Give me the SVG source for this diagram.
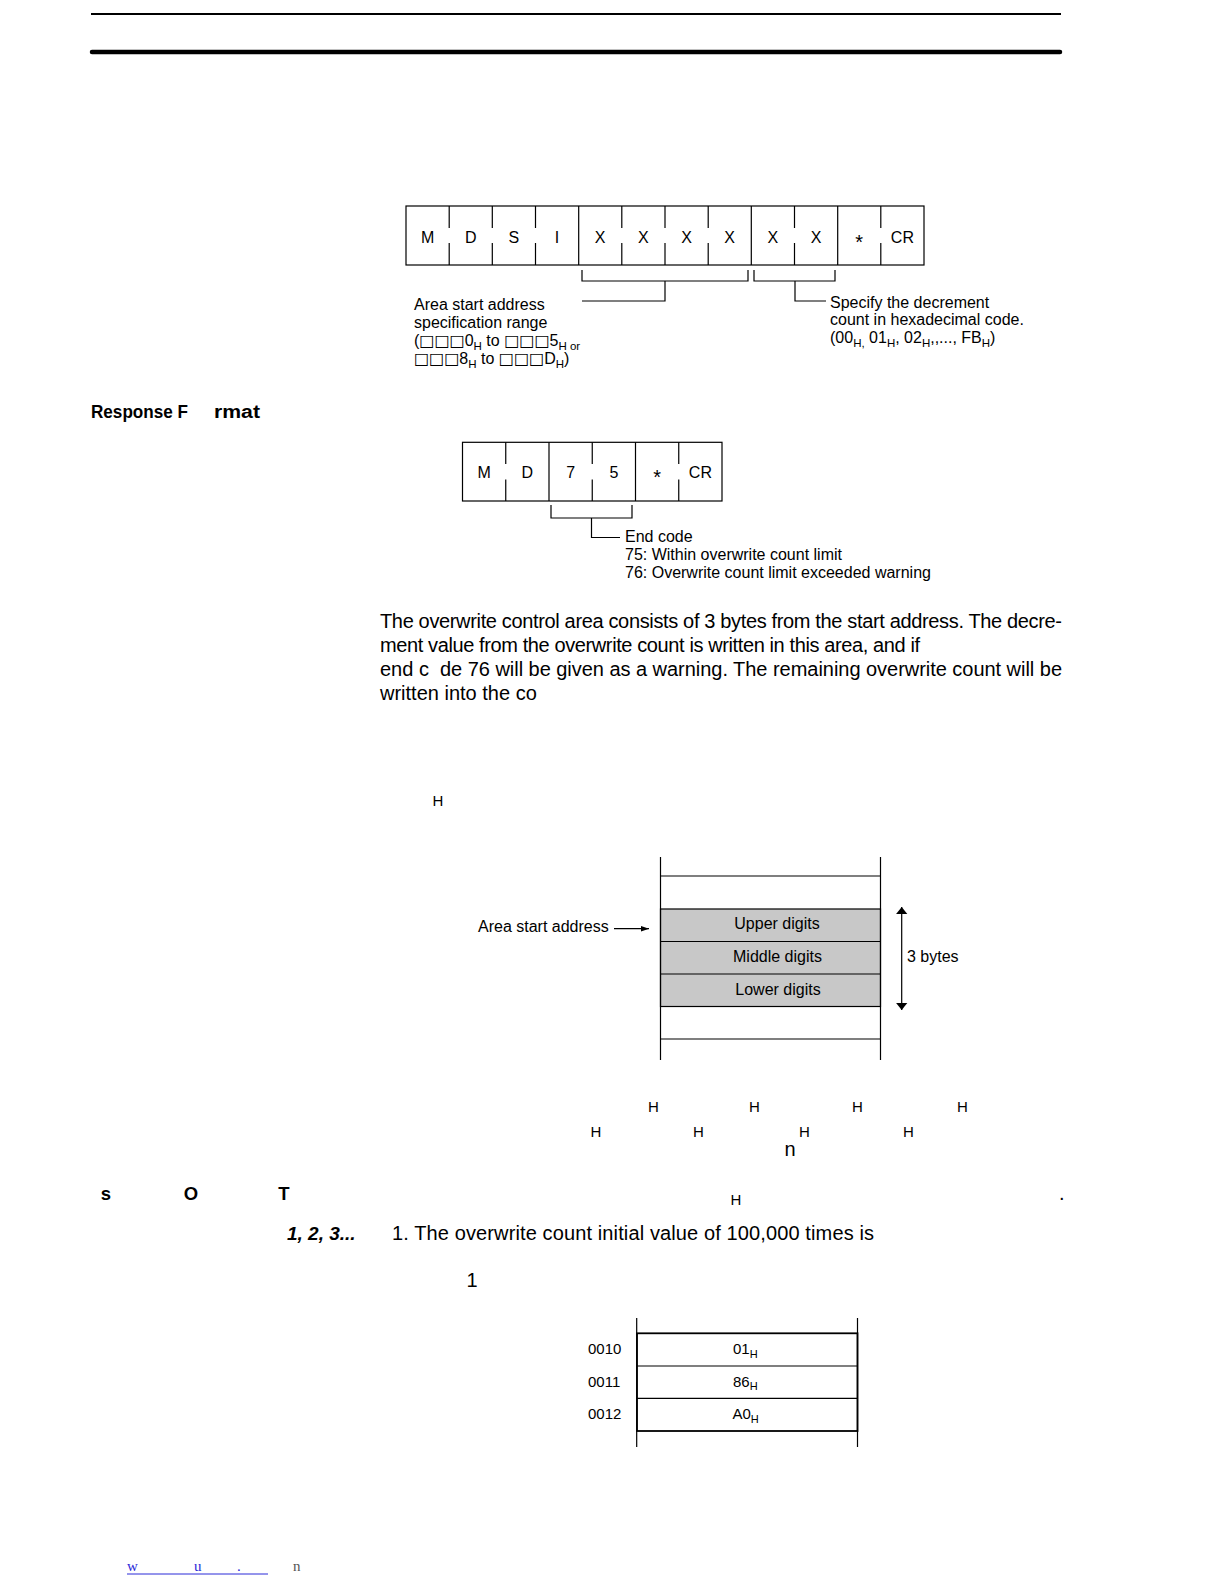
<svg xmlns="http://www.w3.org/2000/svg" width="1224" height="1584" viewBox="0 0 1224 1584">
<style>
text{font-family:"Liberation Sans",Arial,sans-serif;fill:#000}
.c{font-size:16px;text-anchor:middle}
.st{font-size:20px;text-anchor:middle}
.a{font-size:16px}
.p{font-size:20px}
.h{font-size:15px;text-anchor:middle}
.b{font-weight:bold}
.ln{stroke:#000;stroke-width:1.2;fill:none}
.box{stroke:#000;stroke-width:1.2;fill:#fff}
.g{fill:#c8c8c8;stroke:#000;stroke-width:1.2}
.sub{font-size:11.5px}
.sq{font-family:"DejaVu Sans",sans-serif;font-size:16px}
</style>
<defs>
<marker id="ah" viewBox="0 0 10 10" refX="10" refY="5" markerWidth="8" markerHeight="8" markerUnits="userSpaceOnUse" orient="auto">
<path d="M0,1.5 L10,5 L0,8.5 Z" fill="#000"/>
</marker>
<marker id="ah2" viewBox="0 0 10 20" refX="10" refY="10" markerWidth="7" markerHeight="14" markerUnits="userSpaceOnUse" orient="auto">
<path d="M0,2 L10,10 L0,18 Z" fill="#000"/>
</marker>
</defs>

<g id="header">
<line x1="91" y1="14" x2="1061" y2="14" stroke="#000" stroke-width="2"/>
<line x1="92" y1="52" x2="1060" y2="52" stroke="#000" stroke-width="4.5" stroke-linecap="round"/>
</g>

<g id="command-frame">
<rect x="406" y="206" width="518" height="59" class="box"/>
<path class="ln" d="M449.2,206V228M449.2,243V265M492.3,206V228M492.3,243V265M535.5,206V228M535.5,243V265M578.7,206V265M621.8,206V228M621.8,243V265M665,206V228M665,243V265M708.2,206V228M708.2,243V265M751.3,206V265M794.5,206V228M794.5,243V265M837.7,206V265M880.8,206V228M880.8,243V265"/>
<text class="c" x="427.6" y="242.5">M</text>
<text class="c" x="470.7" y="242.5">D</text>
<text class="c" x="513.9" y="242.5">S</text>
<text class="c" x="557.1" y="242.5">I</text>
<text class="c" x="600.2" y="242.5">X</text>
<text class="c" x="643.4" y="242.5">X</text>
<text class="c" x="686.6" y="242.5">X</text>
<text class="c" x="729.7" y="242.5">X</text>
<text class="c" x="772.9" y="242.5">X</text>
<text class="c" x="816.1" y="242.5">X</text>
<text class="st" x="859.2" y="248.5">*</text>
<text class="c" x="902.4" y="242.5">CR</text>
</g>

<g id="command-annotations">
<text class="a" x="414" y="310">Area start address</text>
<text class="a" x="414" y="327.5">specification range</text>
<text class="a" x="414" y="345.5">(<tspan class="sq">□□□</tspan>0<tspan class="sub" dy="4">H</tspan><tspan dy="-4"> to </tspan><tspan class="sq">□□□</tspan>5<tspan class="sub" dy="4">H or</tspan></text>
<text class="a" x="414" y="363.5"><tspan class="sq">□□□</tspan>8<tspan class="sub" dy="4">H</tspan><tspan dy="-4"> to </tspan><tspan class="sq">□□□</tspan>D<tspan class="sub" dy="4">H</tspan><tspan dy="-4">)</tspan></text>
<text class="a" x="830" y="307.5">Specify the decrement</text>
<text class="a" x="830" y="325">count in hexadecimal code.</text>
<text class="a" x="830" y="342.5">(00<tspan class="sub" dy="4">H,</tspan><tspan dy="-4"> 01</tspan><tspan class="sub" dy="4">H</tspan><tspan dy="-4">, 02</tspan><tspan class="sub" dy="4">H</tspan><tspan dy="-4">,,..., FB</tspan><tspan class="sub" dy="4">H</tspan><tspan dy="-4">)</tspan></text>
</g>

<g id="response-title">
<text class="b" x="91" y="418" font-size="17.5" textLength="97" lengthAdjust="spacingAndGlyphs">Response F</text>
<text class="b" x="214" y="418" font-size="17.5" textLength="46" lengthAdjust="spacingAndGlyphs">rmat</text>
</g>

<g id="response-frame">
<rect x="462.5" y="442.3" width="259.5" height="58.7" class="box"/>
<path class="ln" d="M505.75,442.3V464M505.75,479.5V501M549,442.3V501M592.25,442.3V464M592.25,479.5V501M635.5,442.3V501M678.75,442.3V464M678.75,479.5V501"/>
<text class="c" x="484.1" y="478">M</text>
<text class="c" x="527.4" y="478">D</text>
<text class="c" x="570.6" y="478">7</text>
<text class="c" x="613.9" y="478">5</text>
<text class="st" x="657.1" y="484">*</text>
<text class="c" x="700.4" y="478">CR</text>
</g>

<g id="response-annotations">
<text class="a" x="625" y="542">End code</text>
<text class="a" x="625" y="560">75: Within overwrite count limit</text>
<text class="a" x="625" y="578">76: Overwrite count limit exceeded warning</text>
</g>

<g id="paragraph">
<text class="p" x="380" y="628" textLength="682">The overwrite control area consists of 3 bytes from the start address. The decre-</text>
<text class="p" x="380" y="651.5" textLength="540">ment value from the overwrite count is written in this area, and if</text>
<text class="p" x="380" y="675.5">end c</text>
<text class="p" x="440" y="675.5" textLength="622">de 76 will be given as a warning. The remaining overwrite count will be</text>
<text class="p" x="380" y="699.5">written into the co</text>
<text class="h" x="438" y="806">H</text>
</g>

<g id="memory-map">
<rect x="660.5" y="909" width="220" height="97.5" class="g"/>
<path class="ln" d="M660.5,857V1060M880.5,857V1060M660.5,876H880.5M660.5,941.5H880.5M660.5,974H880.5M660.5,1039H880.5"/>
<text class="a" x="777" y="928.5" text-anchor="middle">Upper digits</text>
<text class="a" x="777.5" y="961.5" text-anchor="middle">Middle digits</text>
<text class="a" x="778" y="994.5" text-anchor="middle">Lower digits</text>
<text class="a" x="478" y="932">Area start address</text>
<text class="a" x="907" y="962">3 bytes</text>
</g>

<g id="connectors">
<path class="ln" d="M582,270V281H748V270M665,281V301H582"/>
<path class="ln" d="M754,270V281H835V270M795,281V301H826"/>
<path class="ln" d="M551,505V518H632V505M591.5,518V537.5H620"/>
<line x1="614" y1="928.7" x2="649" y2="928.7" stroke="#000" stroke-width="1.2" marker-end="url(#ah)"/>
<line x1="901.7" y1="958" x2="901.7" y2="907" stroke="#000" stroke-width="1.2" marker-end="url(#ah2)"/>
<line x1="901.7" y1="958" x2="901.7" y2="1010" stroke="#000" stroke-width="1.2" marker-end="url(#ah2)"/>
</g>

<g id="fragments">
<text class="h" x="653.3" y="1112">H</text>
<text class="h" x="754.3" y="1112">H</text>
<text class="h" x="857.3" y="1112">H</text>
<text class="h" x="962.3" y="1112">H</text>
<text class="h" x="596" y="1136.5">H</text>
<text class="h" x="698.3" y="1136.5">H</text>
<text class="h" x="804.3" y="1136.5">H</text>
<text class="h" x="908.3" y="1136.5">H</text>
<text class="p" x="790" y="1156" text-anchor="middle">n</text>
<text class="h" x="736" y="1205">H</text>
<text class="p" x="1059" y="1200">.</text>
<text class="b" x="106" y="1200" font-size="18.5" text-anchor="middle">s</text>
<text class="b" x="191" y="1200" font-size="18.5" text-anchor="middle">O</text>
<text class="b" x="284" y="1200" font-size="18.5" text-anchor="middle">T</text>
<text class="b" x="287" y="1240" font-size="19" font-style="italic">1, 2, 3...</text>
<text class="p" x="392" y="1240" textLength="482">1. The overwrite count initial value of 100,000 times is</text>
<text class="p" x="472" y="1287" text-anchor="middle">1</text>
</g>

<g id="example-map">
<path d="M636.7,1318V1447M857.5,1318V1447" stroke="#000" stroke-width="1.2" fill="none"/>
<rect x="637" y="1333.3" width="220.5" height="97.7" fill="none" stroke="#000" stroke-width="1.8"/>
<path class="ln" d="M637,1366H857.5M637,1398.3H857.5"/>
<text font-size="15" x="588" y="1354">0010</text>
<text font-size="15" x="588" y="1386.5">0011</text>
<text font-size="15" x="588" y="1419">0012</text>
<text font-size="15" x="733" y="1354">01<tspan font-size="11" dy="3.5">H</tspan></text>
<text font-size="15" x="733" y="1386.5">86<tspan font-size="11" dy="3.5">H</tspan></text>
<text font-size="15" x="732.5" y="1419">A0<tspan font-size="11" dy="3.5">H</tspan></text>
</g>

<g id="footer">
<text x="127" y="1571" style="font-family:'Liberation Serif',serif;font-size:15px;fill:#2a2ad8">w</text>
<text x="194" y="1571" style="font-family:'Liberation Serif',serif;font-size:15px;fill:#2a2ad8">u</text>
<text x="237" y="1571" style="font-family:'Liberation Serif',serif;font-size:15px;fill:#2a2ad8">.</text>
<line x1="127" y1="1574" x2="268" y2="1574" stroke="#2a2ad8" stroke-width="1"/>
<text x="293" y="1571" style="font-family:'Liberation Serif',serif;font-size:15px;fill:#555">n</text>
</g>
</svg>
